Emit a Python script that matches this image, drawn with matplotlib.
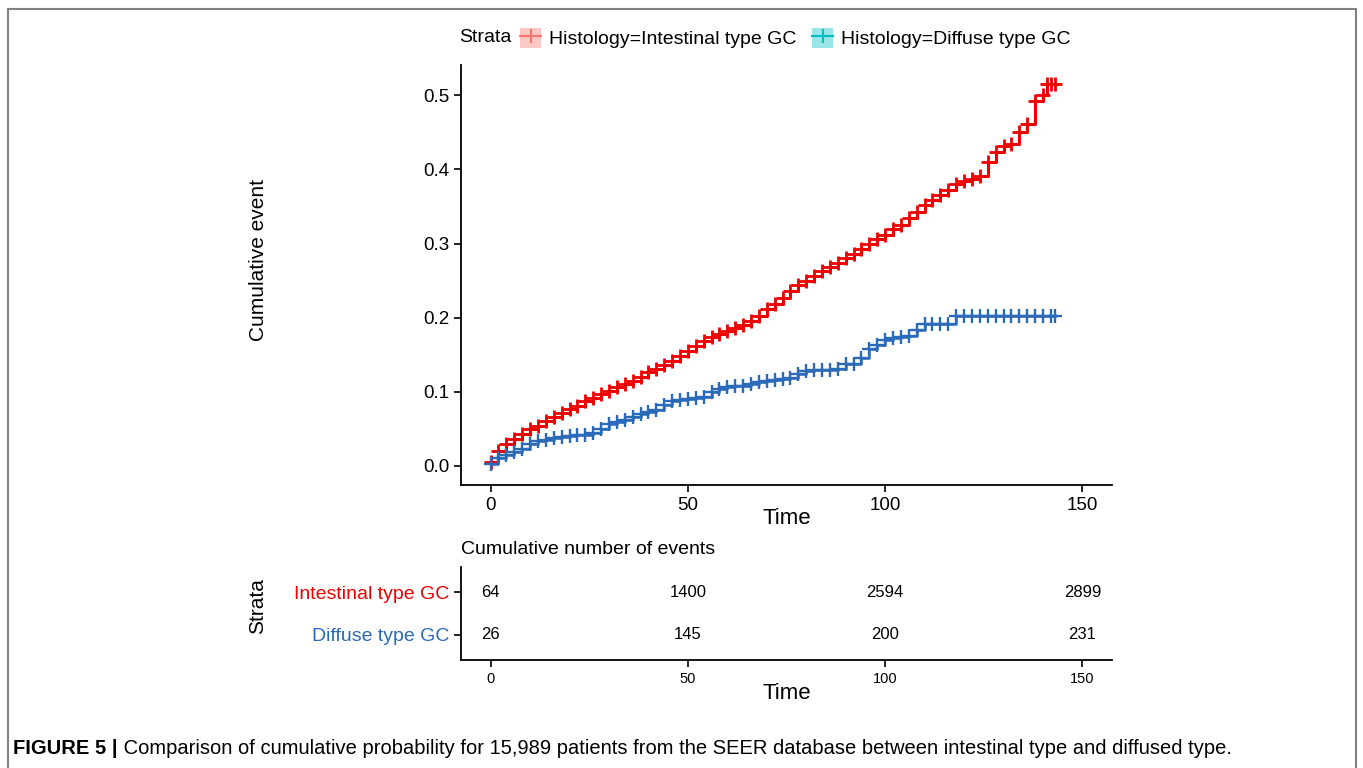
import numpy as np
import matplotlib.pyplot as plt
from matplotlib.lines import Line2D
from matplotlib.patches import Patch, Rectangle
from matplotlib.legend_handler import HandlerTuple

plt.rcParams['font.family'] = ['Liberation Sans', 'DejaVu Sans']

# cumulative event curves
t_int = [0, 2, 4, 6, 8, 10, 12, 14, 16, 18, 20, 22, 24, 26, 28, 30, 32, 34, 36, 38,
         40, 42, 44, 46, 48, 50, 52, 54, 56, 58, 60, 62, 64, 66, 68, 70, 72, 74, 76, 78,
         80, 82, 84, 86, 88, 90, 92, 94, 96, 98, 100, 102, 104, 106, 108, 110, 112, 114,
         116, 118, 120, 122, 124, 126, 128, 130, 132, 134, 136, 138, 140, 141, 142, 143]
cum_int = [0.005, 0.020, 0.030, 0.036, 0.043, 0.049, 0.054, 0.060, 0.066, 0.071,
           0.076, 0.081, 0.087, 0.092, 0.097, 0.101, 0.106, 0.110, 0.115, 0.120,
           0.126, 0.131, 0.136, 0.141, 0.148, 0.155, 0.161, 0.168, 0.174, 0.178,
           0.182, 0.186, 0.190, 0.195, 0.202, 0.212, 0.218, 0.226, 0.236, 0.244,
           0.250, 0.256, 0.263, 0.268, 0.274, 0.280, 0.286, 0.293, 0.300, 0.306,
           0.312, 0.319, 0.325, 0.334, 0.343, 0.352, 0.359, 0.366, 0.372, 0.380,
           0.384, 0.387, 0.391, 0.410, 0.424, 0.431, 0.435, 0.450, 0.462, 0.493,
           0.501, 0.515, 0.515, 0.515]

t_dif = [0, 2, 4, 6, 8, 10, 12, 14, 16, 18, 20, 22, 24, 26, 28, 30, 32, 34, 36, 38,
         40, 42, 44, 46, 48, 50, 52, 54, 56, 58, 60, 62, 64, 66, 68, 70, 72, 74, 76, 78,
         80, 82, 84, 86, 88, 90, 92, 94, 96, 98, 100, 102, 104, 106, 108, 110, 112, 114,
         116, 118, 120, 122, 124, 126, 128, 130, 132, 134, 136, 138, 140, 142, 143]
cum_dif = [0.003, 0.010, 0.015, 0.019, 0.023, 0.029, 0.033, 0.035, 0.037, 0.039,
           0.040, 0.041, 0.042, 0.044, 0.050, 0.056, 0.059, 0.062, 0.066, 0.070,
           0.072, 0.075, 0.082, 0.087, 0.089, 0.090, 0.091, 0.093, 0.099, 0.103,
           0.106, 0.107, 0.108, 0.111, 0.113, 0.114, 0.116, 0.117, 0.119, 0.124,
           0.128, 0.129, 0.129, 0.129, 0.130, 0.137, 0.138, 0.145, 0.157, 0.163,
           0.170, 0.173, 0.174, 0.175, 0.183, 0.191, 0.192, 0.192, 0.192, 0.202,
           0.202, 0.202, 0.202, 0.202, 0.202, 0.202, 0.202, 0.202, 0.202, 0.202,
           0.202, 0.202, 0.202]

# risk table
table_times = [0, 50, 100, 150]
events_int = [64, 1400, 2594, 2899]
events_dif = [26, 145, 200, 231]
strata_labels = ["Intestinal type GC", "Diffuse type GC"]
legend_labels = ["Histology=Intestinal type GC", "Histology=Diffuse type GC"]

red = "#EE0000"
blue = "#2A6AB8"

W, H = 1363, 768
fig = plt.figure(figsize=(W / 100, H / 100), dpi=100)

def px_axes(left, top, right, bottom):
    return fig.add_axes([left / W, 1 - bottom / H, (right - left) / W, (bottom - top) / H])

# border around the figure (bottom edge is cut off in the original)
fig.patches.append(Rectangle((8 / W, -0.05), (1356 - 8) / W, 1.05 - 9 / H,
                             transform=fig.transFigure, fill=False,
                             edgecolor="#808080", lw=1.5))

ax = px_axes(461, 65, 1112, 485)
ax.step(t_int, cum_int, where="post", color=red, lw=2.2)
ax.plot(t_int, cum_int, "+", color=red, ms=10, mew=2)
ax.step(t_dif, cum_dif, where="post", color=blue, lw=1.8)
ax.plot(t_dif, cum_dif, "+", color=blue, ms=10, mew=1.7)
ax.set_xlim(-7.5, 157.5)
ax.set_ylim(-0.026, 0.541)
ax.set_xticks([0, 50, 100, 150])
ax.set_yticks([0, 0.1, 0.2, 0.3, 0.4, 0.5])
ax.set_yticklabels(["0.0", "0.1", "0.2", "0.3", "0.4", "0.5"])
for s in ["top", "right"]:
    ax.spines[s].set_visible(False)
for s in ["left", "bottom"]:
    ax.spines[s].set_linewidth(1.3)
ax.tick_params(labelsize=13.5, length=5, width=1.2, colors="black")
ax.set_xlabel("Time", fontsize=16, labelpad=-4)
fig.text(258 / W, 1 - 260 / H, "Cumulative event", rotation=90, fontsize=15,
         ha="center", va="center")

# legend
handles = [(Patch(facecolor="#F8766D", alpha=0.4, edgecolor="none"),
            Line2D([], [], color="#F8766D", marker="+", ms=10, mew=1.5, lw=1.5)),
           (Patch(facecolor="#00BFC4", alpha=0.4, edgecolor="none"),
            Line2D([], [], color="#00BFC4", marker="+", ms=10, mew=1.5, lw=1.5))]
fig.text(459 / W, 1 - 38 / H, "Strata", fontsize=14, ha="left", va="center")
fig.legend(handles, legend_labels, handler_map={tuple: HandlerTuple(ndivide=1)},
           loc="center left", bbox_to_anchor=(520 / W, 1 - 38 / H), ncol=2,
           frameon=False, fontsize=14, handlelength=1.1, handleheight=1.2,
           handletextpad=0.4, columnspacing=0.8, borderpad=0, borderaxespad=0)

# risk table
tx = px_axes(461, 567, 1112, 660)
tx.set_xlim(-7.5, 157.5)
tx.set_ylim(0.4, 2.6)
for x, v in zip(table_times, events_int):
    tx.text(x, 2, str(v), ha="center", va="center", fontsize=12)
for x, v in zip(table_times, events_dif):
    tx.text(x, 1, str(v), ha="center", va="center", fontsize=12)
tx.set_xticks(table_times)
tx.set_yticks([2, 1])
tx.set_yticklabels(strata_labels)
tx.get_yticklabels()[0].set_color(red)
tx.get_yticklabels()[1].set_color(blue)
for s in ["top", "right"]:
    tx.spines[s].set_visible(False)
for s in ["left", "bottom"]:
    tx.spines[s].set_linewidth(1.3)
tx.tick_params(axis="y", labelsize=14, length=5, width=1.2)
tx.tick_params(axis="x", labelsize=10.5, length=5, width=1.2)
tx.set_xlabel("Time", fontsize=16, labelpad=-2)
tx.set_title("Cumulative number of events", loc="left", fontsize=14, pad=9)
fig.text(258 / W, 1 - 606 / H, "Strata", rotation=90, fontsize=15,
         ha="center", va="center")

# caption
cap = fig.text(13 / W, 1 - 748 / H, "FIGURE 5 |", fontsize=14.5, fontweight="bold",
               va="center")
ax.annotate(" Comparison of cumulative probability for 15,989 patients from the SEER "
            "database between intestinal type and diffused type.",
            xy=(1, 0.5), xycoords=cap, va="center", ha="left", fontsize=14.5,
            annotation_clip=False)

fig.savefig("out.png", dpi=100)
